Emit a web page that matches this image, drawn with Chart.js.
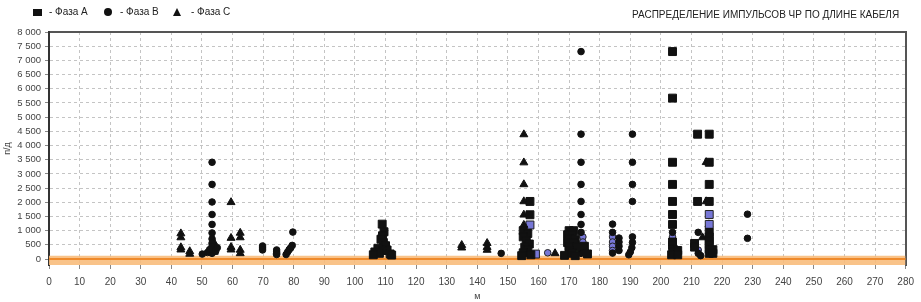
<!DOCTYPE html>
<html>
<head>
<meta charset="utf-8">
<script src="https://cdn.jsdelivr.net/npm/chart.js@4.4.1/dist/chart.umd.min.js"></script>
<style>
  html, body { margin: 0; padding: 0; background: #fff; }
  #wrap { position: relative; width: 921px; height: 302px; }
  #title {
    position: absolute; left: 632px; top: 9px;
    font: 10px "Liberation Sans", Arial, sans-serif; color: #222; white-space: nowrap;
  }
  .lg-text {
    position: absolute; top: 6px;
    font: 10px "Liberation Sans", Arial, sans-serif; color: #222; white-space: nowrap;
  }
  .lg-mark { position: absolute; background: #111; }
  .lg-mark.circle { border-radius: 50%; }
  .lg-mark.triangle {
    background: transparent; width: 0; height: 0;
    border-left: 4.5px solid transparent; border-right: 4.5px solid transparent;
    border-bottom: 8px solid #111;
  }
</style>
</head>
<body>
<div id="wrap">
  <canvas id="chart" width="921" height="302"></canvas>
  <div id="legend"></div>
  <div id="title">РАСПРЕДЕЛЕНИЕ ИМПУЛЬСОВ ЧР ПО ДЛИНЕ КАБЕЛЯ</div>
</div>
<script>
// шкалы
const xMin = 0, xMax = 280, xStep = 10;
const yMin = -210, yMax = 8000, yStep = 500;
const noiseLevel = 120;

const seriesNames = ["- Фаза А", "- Фаза В", "- Фаза С"];

// Фаза А (квадраты): [м, п/д]
const phaseA = [
  [108.9, 1230], [109.5, 960], [109, 820], [108.5, 700], [109.3, 580], [110, 470],
  [107.5, 380], [110.5, 320], [109, 300], [106.5, 250], [108, 200], [111.5, 180],
  [106, 150], [112, 140],
  [157.2, 2030], [157.2, 1560], [155, 1000], [156.5, 900], [155, 780], [156, 650],
  [157, 530], [155.5, 420], [156.5, 320], [155, 220], [157.5, 150], [154.5, 120],
  [170, 1000], [171.5, 1000], [169.5, 860], [171, 860], [170, 720], [172, 700],
  [169.5, 580], [171.5, 560], [170, 440], [172.5, 430], [170, 300], [171, 200],
  [168.5, 130], [172, 120], [175, 450], [176, 180],
  [203.8, 7310], [203.8, 5670], [203.8, 3410], [203.8, 2630], [203.8, 2030],
  [203.8, 1570], [203.8, 1220], [203.8, 600], [203.8, 480], [204, 350], [204, 250],
  [203.5, 150], [205.5, 300], [205.5, 150],
  [212, 4400], [212, 2030], [211, 550], [211, 420],
  [215.8, 4400], [215.8, 3410], [215.8, 2630], [215.8, 2030], [215.8, 940],
  [215.8, 780], [215.8, 650], [215.8, 500], [215.8, 350], [215.8, 200],
  [217, 330], [217, 200]
];
// Фаза В (круги)
const phaseB = [
  [50.1, 175],
  [53.3, 3410], [53.3, 2630], [53.3, 2010], [53.3, 1570], [53.3, 1220], [53.3, 920],
  [53.3, 710], [53.3, 560], [53.3, 450], [53.3, 350], [53.3, 250], [53.3, 200],
  [51.8, 230], [52.5, 330], [54.5, 280], [55, 400],
  [69.8, 460], [69.8, 390], [69.8, 320],
  [74.4, 320], [74.4, 250], [74.4, 200], [74.4, 160],
  [79.7, 950], [79.5, 480], [79, 400], [78.5, 330], [78, 250], [77.5, 160],
  [147.8, 200],
  [173.9, 7310], [173.9, 4400], [173.9, 3410], [173.9, 2630], [173.9, 2030],
  [173.9, 1570], [173.9, 1220], [173.9, 940], [173.9, 450], [173.9, 300], [173.9, 200],
  [184.2, 1230], [184.2, 940], [184.2, 210],
  [186.3, 740], [186.3, 600], [186.3, 450], [186.3, 300],
  [190.7, 4400], [190.7, 3410], [190.7, 2630], [190.7, 2030], [190.7, 780],
  [190.7, 585], [190.5, 400], [190, 250], [189.5, 150],
  [203.8, 940], [212.2, 940], [212.2, 200], [213, 120],
  [228.3, 1580], [228.3, 730]
];
// Фаза С (треугольники)
const phaseC = [
  [43.1, 900], [43.1, 760], [43.1, 410], [43.1, 330],
  [46, 270], [46, 180],
  [53.8, 600], [54.2, 450], [53, 330], [54, 250],
  [59.5, 2000], [59.5, 740], [59.5, 420], [59.5, 330],
  [62.5, 920], [62.5, 760], [62.5, 320], [62.5, 200],
  [134.9, 490], [134.9, 400],
  [143.2, 560], [143.2, 420], [143.2, 320],
  [155.2, 4390], [155.2, 3400], [155.2, 2630], [155.2, 2030], [155.2, 1560], [155.2, 1200],
  [165.4, 200],
  [214.8, 3410], [214.8, 2030], [213.6, 760]
];
// отмеченные точки (синие)
const phaseAMarked = [[157.2, 1200], [159, 175], [204, 300], [215.8, 1570], [215.8, 1220]];
const phaseBMarked = [
  [163, 220], [174.5, 780], [174.5, 600], [175.5, 250],
  [184.2, 780], [184.2, 600], [184.2, 450], [184.2, 300],
  [203.8, 780], [212.2, 316]
];
const phaseCMarked = [[215.7, 1218]];
const phaseCGreen = [[172.9, 256]];

const toXY = arr => arr.map(p => ({ x: p[0], y: p[1] }));
const fmt = v => String(v).replace(/\B(?=(\d{3})+(?!\d))/g, " ");

function pts(label, data, style, radius, fill, border) {
  return {
    type: "scatter",
    label: label,
    data: toXY(data),
    pointStyle: style,
    pointRadius: radius,
    pointBackgroundColor: fill,
    pointBorderColor: border,
    pointBorderWidth: 1,
    backgroundColor: fill,
    borderColor: border,
    order: 1
  };
}

const datasets = [
  pts(seriesNames[0], phaseA, "rect", 5.6, "#111", "#111"),
  pts(seriesNames[1], phaseB, "circle", 3.3, "#111", "#111"),
  pts(seriesNames[2], phaseC, "triangle", 4.6, "#111", "#111"),
  pts("", phaseAMarked, "rect", 5.6, "#7777d6", "#222"),
  pts("", phaseBMarked, "circle", 3.3, "#7777d6", "#222"),
  pts("", phaseCMarked, "triangle", 4.6, "#7777d6", "#222"),
  pts("", phaseCGreen, "circle", 2.5, "#3cc23c", "#3cc23c"),
  {
    type: "line", label: "", order: 5,
    data: [{ x: xMin, y: noiseLevel }, { x: xMax, y: noiseLevel }],
    borderWidth: 0, pointRadius: 0, fill: "start",
    backgroundColor: "rgba(248,188,124,0.9)", borderColor: "rgba(0,0,0,0)"
  },
  {
    type: "line", label: "", order: 4,
    data: [{ x: xMin, y: 0 }, { x: xMax, y: 0 }],
    borderWidth: 2, pointRadius: 0, fill: false,
    borderColor: "#ef8a2c"
  }
];

// легенда (html)
const legendPos = [
  { mark: "square", mx: 33, my: 9, w: 9, h: 7, tx: 49 },
  { mark: "circle", mx: 104, my: 8, w: 8, h: 8, tx: 120 },
  { mark: "triangle", mx: 173, my: 8, w: 0, h: 0, tx: 191 }
];
const legendEl = document.getElementById("legend");
legendPos.forEach((p, i) => {
  const m = document.createElement("div");
  m.className = "lg-mark " + p.mark;
  m.style.left = p.mx + "px";
  m.style.top = p.my + "px";
  if (p.mark !== "triangle") { m.style.width = p.w + "px"; m.style.height = p.h + "px"; }
  legendEl.appendChild(m);
  const t = document.createElement("div");
  t.className = "lg-text";
  t.style.left = p.tx + "px";
  t.textContent = seriesNames[i];
  legendEl.appendChild(t);
});

const family = "'Liberation Sans', Arial, sans-serif";

new Chart(document.getElementById("chart"), {
  type: "scatter",
  data: { datasets: datasets },
  options: {
    responsive: false,
    animation: false,
    layout: { padding: { left: 0, right: 0, top: 31, bottom: 0 } },
    plugins: {
      tooltip: { enabled: false },
      title: { display: false },
      legend: { display: false }
    },
    scales: {
      x: {
        type: "linear", position: "bottom",
        min: xMin, max: xMax,
        afterFit: s => { s.height = 37; },
        ticks: { stepSize: xStep, color: "#444", font: { family: family, size: 10 }, padding: 7, maxRotation: 0, autoSkip: false },
        grid: { color: "#c4c4c4", tickColor: "#888", tickLength: 4 },
        border: { display: false, dash: [3, 3] },
        title: { display: true, text: "м", color: "#444", font: { family: family, size: 9 }, padding: { top: 0, bottom: 0 } }
      },
      xTop: {
        type: "linear", position: "top",
        min: xMin, max: xMax,
        afterFit: s => { s.height = 1; },
        ticks: { display: false },
        grid: { display: false },
        border: { display: true, color: "#555", width: 2 }
      },
      y: {
        type: "linear", position: "left",
        min: yMin, max: yMax,
        afterFit: s => { s.width = 49; },
        afterBuildTicks: s => {
          const t = [];
          for (let v = 0; v <= yMax; v += yStep) t.push({ value: v });
          s.ticks = t;
        },
        ticks: { color: "#444", font: { family: family, size: 9.5 }, padding: 4, autoSkip: false, callback: v => fmt(v) },
        grid: { color: "#c4c4c4", tickColor: "#888", tickLength: 4 },
        border: { display: true, color: "#333", width: 2, dash: [3, 3] },
        title: { display: true, text: "п/д", color: "#444", font: { family: family, size: 9 }, padding: { top: 2, bottom: 0 } }
      },
      yRight: {
        type: "linear", position: "right",
        min: yMin, max: yMax,
        afterFit: s => { s.width = 15; },
        ticks: { display: false },
        grid: { display: false },
        border: { display: true, color: "#555", width: 2 }
      }
    }
  }
});
</script>
</body>
</html>
